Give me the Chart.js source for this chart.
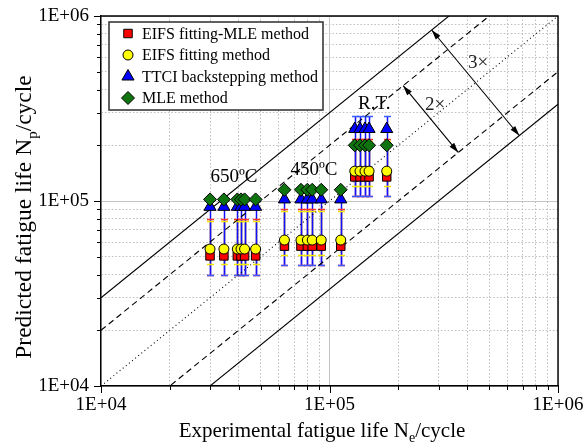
<!DOCTYPE html>
<html>
<head>
<meta charset="utf-8">
<script src="https://cdn.jsdelivr.net/npm/chart.js@4.4.1/dist/chart.umd.min.js"></script>
<style>
    html, body { margin: 0; padding: 0; background: #fff; }
    #wrap { width: 585px; height: 446px; }
</style>
</head>
<body>
<div id="wrap"><canvas id="chart"></canvas></div>
<script>
const serif = '"Liberation Serif", "Times New Roman", serif';

// axis ticks (same on both log axes)
const tickValues = [1e4, 2e4, 3e4, 4e4, 5e4, 6e4, 7e4, 8e4, 9e4, 1e5, 2e5, 3e5, 4e5, 5e5, 6e5, 7e5, 8e5, 9e5, 1e6];
const tickLabels = ['1E+04', '', '', '', '', '', '', '', '', '1E+05', '', '', '', '', '', '', '', '', '1E+06'];

// experimental life of each specimen: 650ºC, 450ºC, R.T.
const experimentalLife = [30000, 34500, 39500, 41000, 42500, 47500, 63500, 75000, 80000, 84000, 92000, 112000, 129000, 136000, 143000, 149000, 178000];

const methodNames = ['EIFS fitting-MLE method', 'EIFS fitting method', 'TTCI backstepping method', 'MLE method'];

const eifsMleLife = [50500, 50500, 50500, 50500, 50500, 50500, 57000, 57000, 57000, 57000, 57000, 57000, 135000, 135000, 135000, 135000, 135000];
const eifsMleLow = [39800, 39800, 39800, 39800, 39800, 39800, 45000, 45000, 45000, 45000, 45000, 45000, 106000, 106000, 106000, 106000, 106000];
const eifsMleHigh = [80000, 80000, 80000, 80000, 80000, 80000, 90000, 90000, 90000, 90000, 90000, 90000, 216000, 216000, 216000, 216000, 216000];

const eifsLife = [55000, 55000, 55000, 55000, 55000, 55000, 61500, 61500, 61500, 61500, 61500, 61500, 145000, 145000, 145000, 145000, 145000];
const eifsLow = [45700, 45700, 45700, 45700, 45700, 45700, 51000, 51000, 51000, 51000, 51000, 51000, 120000, 120000, 120000, 120000, 120000];
const eifsHigh = [78000, 78000, 78000, 78000, 78000, 78000, 88000, 88000, 88000, 88000, 88000, 88000, 212000, 212000, 212000, 212000, 212000];

const ttciLife = [93000, 93000, 93000, 93000, 93000, 93000, 102000, 102000, 102000, 102000, 102000, 102000, 245000, 245000, 245000, 245000, 245000];
const ttciLow = [39800, 39800, 39800, 39800, 39800, 39800, 45000, 45000, 45000, 45000, 45000, 45000, 106000, 106000, 106000, 106000, 106000];
const ttciHigh = [103000, 103000, 103000, 103000, 103000, 103000, 116000, 116000, 116000, 116000, 116000, 116000, 288000, 288000, 288000, 288000, 288000];

const mleLife = [102000, 102000, 102000, 102000, 102000, 102000, 115000, 115000, 115000, 115000, 115000, 115000, 200000, 200000, 200000, 200000, 200000];

// scatter bands N_p = k * N_e
const bandFactors = [3, 2, 1, 1 / 2, 1 / 3];

// double arrows between the bands
const arrowLabels = ['2×', '3×'];
const arrowFrom = [[2.1e5, 4.2e5], [2.8e5, 8.4e5]];
const arrowTo = [[3.66e5, 1.83e5], [6.77e5, 2.26e5]];
const arrowTextAt = [[2.9e5, 3.3e5], [4.47e5, 5.57e5]];

// temperature group labels
const groupLabels = ['650ºC', '450ºC', 'R.T.'];
const groupLabelX = [3.82e4, 8.55e4, 1.57e5];
const groupLabelY = [1.35e5, 1.47e5, 3.34e5];

const methodStyles = [
    {pointStyle: 'rect', radius: 6, color: '#ff0000', bar: '#7b3aa6', cap: '#ff3030'},
    {pointStyle: 'circle', radius: 5, color: '#ffff00', bar: '#f0e000', cap: '#f5e800'},
    {pointStyle: 'triangle', radius: 7, color: '#0000ff', bar: '#1010ff', cap: '#3a5cff'},
    {pointStyle: 'rectRot', radius: 6.5, color: '#0f740f', bar: null, cap: null},
];
const methodValues = [eifsMleLife, eifsLife, ttciLife, mleLife];
const methodLow = [eifsMleLow, eifsLow, ttciLow, null];
const methodHigh = [eifsMleHigh, eifsHigh, ttciHigh, null];

const overlayPlugin = {
    id: 'overlay',
    beforeDatasetsDraw(chart) {
        drawErrorBars(chart);
    },
    afterDraw(chart) {
        drawFrame(chart);
        drawArrows(chart);
        drawGroupLabels(chart);
        drawLegend(chart);
        drawAxisTitles(chart);
    },
};

start();

function start() {
    Chart.defaults.font.family = serif;
    Chart.defaults.font.size = 19;
    Chart.defaults.color = '#000';

    const bandDashes = [[], [6, 4], [1, 3], [6, 4], []];
    const bandSets = bandFactors.map((k, i) => ({
        type: 'line',
        data: [{x: 1e4, y: 1e4 * k}, {x: 1e6, y: 1e6 * k}],
        borderColor: '#000',
        borderWidth: 1.1,
        borderDash: bandDashes[i],
        pointRadius: 0,
        fill: false,
        order: 10,
    }));

    // first dataset is drawn on top, so diamonds come first
    const methodSets = [3, 2, 1, 0].map((m, j) => ({
        type: 'scatter',
        label: methodNames[m],
        data: experimentalLife.map((x, i) => ({x, y: methodValues[m][i]})),
        pointStyle: methodStyles[m].pointStyle,
        pointRadius: methodStyles[m].radius,
        backgroundColor: methodStyles[m].color,
        borderColor: '#000',
        borderWidth: 1,
        order: j,
    }));

    const axis = (position) => ({
        type: 'logarithmic',
        position,
        min: 1e4,
        max: 1e6,
        afterBuildTicks: (scale) => {
            scale.ticks = tickValues.map((v, i) => ({value: v, major: tickLabels[i] !== ''}));
        },
        afterFit: (scale) => {
            if (position === 'left') {
                scale.width = 101;
            } else {
                scale.height = 60;
            }
            // the frame is placed by the layout padding alone
            scale.paddingLeft = 0;
            scale.paddingRight = 0;
            scale.paddingTop = 0;
            scale.paddingBottom = 0;
        },
        ticks: {
            autoSkip: false,
            maxRotation: 0,
            padding: position === 'left' ? 12 : 8,
            callback: (value, index) => tickLabels[index],
            font: {size: 19},
        },
        grid: {
            drawTicks: false,
            color: (ctx) => ctx.tick && ctx.tick.major ? '#c4c4c4' : '#bdbdbd',
            lineWidth: 1,
        },
        border: {
            display: true,
            color: '#000',
            width: 1.4,
            dash: (ctx) => ctx.tick && !ctx.tick.major ? [1.5, 2] : [],
        },
    });

    new Chart(document.getElementById('chart').getContext('2d'), {
        type: 'scatter',
        data: {datasets: [...methodSets, ...bandSets]},
        options: {
            responsive: true,
            maintainAspectRatio: false,
            animation: false,
            layout: {padding: {left: 0, right: 27, top: 16, bottom: 0}},
            plugins: {
                legend: {display: false},
                tooltip: {enabled: false},
            },
            scales: {
                x: axis('bottom'),
                y: axis('left'),
            },
        },
        plugins: [overlayPlugin],
    });
}

function drawErrorBars(chart) {
    const ctx = chart.ctx;
    const xs = chart.scales.x;
    const ys = chart.scales.y;
    const capHalf = 3.5;
    ctx.save();
    ctx.lineWidth = 1.5;
    // lines first: circle, square, triangle
    for (const m of [1, 0, 2]) {
        ctx.strokeStyle = methodStyles[m].bar;
        experimentalLife.forEach((x, i) => {
            const px = Math.round(xs.getPixelForValue(x)) + 0.5;
            ctx.beginPath();
            ctx.moveTo(px, ys.getPixelForValue(methodLow[m][i]));
            ctx.lineTo(px, ys.getPixelForValue(methodHigh[m][i]));
            ctx.stroke();
        });
    }
    for (const m of [1, 0, 2]) {
        ctx.strokeStyle = methodStyles[m].cap;
        experimentalLife.forEach((x, i) => {
            const px = Math.round(xs.getPixelForValue(x)) + 0.5;
            for (const v of [methodLow[m][i], methodHigh[m][i]]) {
                const py = Math.round(ys.getPixelForValue(v)) + 0.5;
                ctx.beginPath();
                ctx.moveTo(px - capHalf, py);
                ctx.lineTo(px + capHalf, py);
                ctx.stroke();
            }
        });
    }
    ctx.restore();
}

function drawFrame(chart) {
    const ctx = chart.ctx;
    const {left, right, top, bottom} = chart.chartArea;
    ctx.save();
    ctx.strokeStyle = '#000';
    ctx.lineWidth = 1.4;
    ctx.beginPath();
    ctx.moveTo(left, top);
    ctx.lineTo(right, top);
    ctx.lineTo(right, bottom);
    ctx.stroke();

    // outward tick marks, longer on decades
    ctx.lineWidth = 1;
    for (const [i, v] of tickValues.entries()) {
        const len = tickLabels[i] ? 7 : 4;
        const px = Math.round(chart.scales.x.getPixelForValue(v)) + 0.5;
        const py = Math.round(chart.scales.y.getPixelForValue(v)) + 0.5;
        ctx.beginPath();
        ctx.moveTo(px, bottom);
        ctx.lineTo(px, bottom + len);
        ctx.moveTo(left, py);
        ctx.lineTo(left - len, py);
        ctx.stroke();
    }
    ctx.restore();
}

function drawArrowHead(ctx, x, y, angle) {
    const len = 10;
    const half = 3;
    ctx.beginPath();
    ctx.moveTo(x, y);
    ctx.lineTo(x - len * Math.cos(angle) + half * Math.sin(angle), y - len * Math.sin(angle) - half * Math.cos(angle));
    ctx.lineTo(x - len * Math.cos(angle) - half * Math.sin(angle), y - len * Math.sin(angle) + half * Math.cos(angle));
    ctx.closePath();
    ctx.fill();
}

function drawArrows(chart) {
    const ctx = chart.ctx;
    const xs = chart.scales.x;
    const ys = chart.scales.y;
    ctx.save();
    ctx.strokeStyle = '#000';
    ctx.fillStyle = '#000';
    ctx.lineWidth = 1.1;
    for (const [i, label] of arrowLabels.entries()) {
        const x1 = xs.getPixelForValue(arrowFrom[i][0]);
        const y1 = ys.getPixelForValue(arrowFrom[i][1]);
        const x2 = xs.getPixelForValue(arrowTo[i][0]);
        const y2 = ys.getPixelForValue(arrowTo[i][1]);
        const angle = Math.atan2(y2 - y1, x2 - x1);
        ctx.beginPath();
        ctx.moveTo(x1, y1);
        ctx.lineTo(x2, y2);
        ctx.stroke();
        drawArrowHead(ctx, x2, y2, angle);
        drawArrowHead(ctx, x1, y1, angle + Math.PI);

        ctx.font = `19px ${serif}`;
        ctx.textAlign = 'center';
        ctx.textBaseline = 'middle';
        ctx.fillStyle = '#222';
        ctx.fillText(label, xs.getPixelForValue(arrowTextAt[i][0]), ys.getPixelForValue(arrowTextAt[i][1]));
        ctx.fillStyle = '#000';
    }
    ctx.restore();
}

function drawGroupLabels(chart) {
    const ctx = chart.ctx;
    ctx.save();
    ctx.font = `19px ${serif}`;
    ctx.fillStyle = '#000';
    ctx.textAlign = 'center';
    ctx.textBaseline = 'middle';
    for (const [i, label] of groupLabels.entries()) {
        ctx.fillText(label, chart.scales.x.getPixelForValue(groupLabelX[i]), chart.scales.y.getPixelForValue(groupLabelY[i]));
    }
    ctx.restore();
}

function drawLegend(chart) {
    const ctx = chart.ctx;
    const left = chart.chartArea.left + 8;
    const top = chart.chartArea.top + 6;
    const width = 214;
    const height = 88;
    const rowHeight = 21.5;
    ctx.save();
    ctx.fillStyle = '#fff';
    ctx.fillRect(left, top, width, height);
    ctx.strokeStyle = '#3a3a3a';
    ctx.lineWidth = 1.6;
    ctx.strokeRect(left, top, width, height);

    ctx.font = `16px ${serif}`;
    ctx.textAlign = 'left';
    ctx.textBaseline = 'middle';
    for (const [m, name] of methodNames.entries()) {
        const y = top + 11.5 + m * rowHeight;
        ctx.fillStyle = methodStyles[m].color;
        ctx.strokeStyle = '#000';
        ctx.lineWidth = 1;
        Chart.helpers.drawPoint(ctx, {
            pointStyle: methodStyles[m].pointStyle,
            radius: methodStyles[m].radius,
            borderWidth: 1,
            rotation: 0,
        }, left + 19, y);
        ctx.fillStyle = '#000';
        ctx.fillText(name, left + 33, y + 1);
    }
    ctx.restore();
}

function drawRichText(ctx, parts, size) {
    const subSize = Math.round(size * 0.65);
    let total = 0;
    for (const p of parts) {
        ctx.font = `${p.sub ? subSize : size}px ${serif}`;
        total += ctx.measureText(p.text).width;
    }
    let x = -total / 2;
    for (const p of parts) {
        ctx.font = `${p.sub ? subSize : size}px ${serif}`;
        ctx.fillText(p.text, x, p.sub ? size * 0.25 : 0);
        x += ctx.measureText(p.text).width;
    }
}

function drawAxisTitles(chart) {
    const ctx = chart.ctx;
    ctx.save();
    ctx.fillStyle = '#000';
    ctx.textAlign = 'left';
    ctx.textBaseline = 'alphabetic';

    ctx.save();
    ctx.translate(322, 437);
    drawRichText(ctx, [{text: 'Experimental fatigue life N'}, {text: 'e', sub: true}, {text: '/cycle'}], 21);
    ctx.restore();

    ctx.save();
    ctx.translate(31, 217);
    ctx.rotate(-Math.PI / 2);
    drawRichText(ctx, [{text: 'Predicted fatigue life N'}, {text: 'p', sub: true}, {text: '/cycle'}], 23.5);
    ctx.restore();

    ctx.restore();
}
</script>
</body>
</html>
